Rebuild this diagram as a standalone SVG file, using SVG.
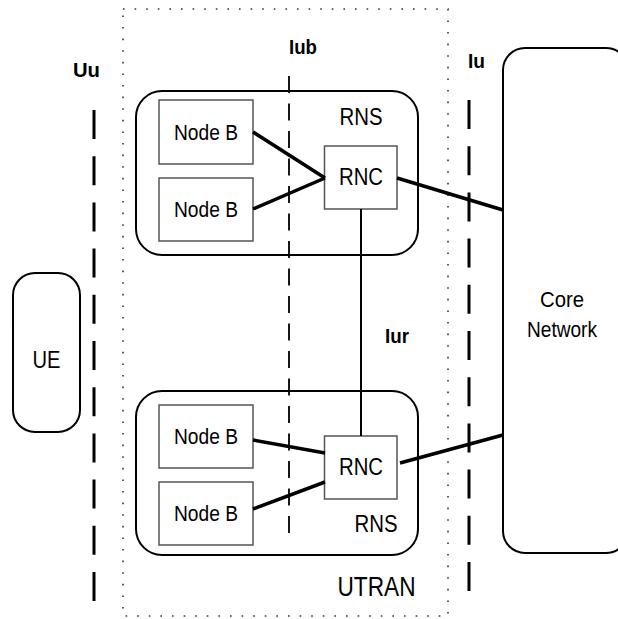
<svg xmlns="http://www.w3.org/2000/svg" width="618" height="619" viewBox="0 0 618 619">
<style>
text{font-family:"Liberation Sans",Arial,sans-serif;fill:#000}
.lbl{font-weight:bold;font-size:21px}
.t{font-size:22px;text-anchor:middle}
.rns{fill:#fff;stroke:#000;stroke-width:2}
.box{fill:#fff;stroke:#555;stroke-width:1.5}
.thick{stroke:#000;stroke-width:3.5;fill:none}
.thin{stroke:#000;stroke-width:2;fill:none}
.ifd{stroke:#000;stroke-width:3;stroke-dasharray:29 17.2;fill:none}
.iub{stroke:#000;stroke-width:1.8;stroke-dasharray:17 10.5;fill:none}
</style>
<rect width="618" height="619" fill="#fff"/>
<g id="utran">
<rect x="123" y="9" width="325" height="607" fill="none" stroke="#333" stroke-width="1.6" stroke-dasharray="1.6 10"/>
<text x="376.5" y="596" style="font-size:27px;text-anchor:middle" textLength="78" lengthAdjust="spacingAndGlyphs">UTRAN</text>
</g>
<g id="interfaces">
<line class="ifd" x1="94" y1="110" x2="94" y2="602"/>
<text class="lbl" x="73" y="77" textLength="27" lengthAdjust="spacingAndGlyphs">Uu</text>
<line class="ifd" x1="469" y1="100" x2="469" y2="593"/>
<text class="lbl" x="468" y="68" textLength="17" lengthAdjust="spacingAndGlyphs">Iu</text>
<text class="lbl" x="289" y="54" textLength="28" lengthAdjust="spacingAndGlyphs">Iub</text>
<text class="lbl" x="385" y="343" textLength="24" lengthAdjust="spacingAndGlyphs">Iur</text>
</g>
<g id="rns1">
<rect class="rns" x="136" y="91" width="282" height="164" rx="26" ry="26"/>
<text class="t" x="361" y="125" style="font-size:23px" textLength="43" lengthAdjust="spacingAndGlyphs">RNS</text>
</g>
<g id="rns2">
<rect class="rns" x="136" y="391" width="282" height="164" rx="26" ry="26"/>
<text class="t" x="376" y="532" style="font-size:23px" textLength="43" lengthAdjust="spacingAndGlyphs">RNS</text>
</g>
<g id="iub-line">
<line class="iub" x1="289" y1="76" x2="289" y2="538"/>
</g>
<g id="nodeb1">
<rect class="box" x="159" y="100" width="94" height="64"/>
<text class="t" x="206" y="139.5" textLength="64" lengthAdjust="spacingAndGlyphs">Node B</text>
</g>
<g id="nodeb2">
<rect class="box" x="159" y="178" width="94" height="63"/>
<text class="t" x="206" y="217" textLength="64" lengthAdjust="spacingAndGlyphs">Node B</text>
</g>
<g id="nodeb3">
<rect class="box" x="159" y="405" width="94" height="63"/>
<text class="t" x="206" y="443.5" textLength="64" lengthAdjust="spacingAndGlyphs">Node B</text>
</g>
<g id="nodeb4">
<rect class="box" x="159" y="482" width="94" height="63"/>
<text class="t" x="206" y="520.5" textLength="64" lengthAdjust="spacingAndGlyphs">Node B</text>
</g>
<g id="rnc1">
<rect class="box" x="324.5" y="146" width="72.5" height="63"/>
<text class="t" x="361" y="185" style="font-size:23px" textLength="44" lengthAdjust="spacingAndGlyphs">RNC</text>
</g>
<g id="rnc2">
<rect class="box" x="324.5" y="436" width="72.5" height="63"/>
<text class="t" x="361" y="475" style="font-size:23px" textLength="44" lengthAdjust="spacingAndGlyphs">RNC</text>
</g>
<g id="ue">
<rect class="rns" x="13" y="273" width="67" height="159" rx="22" ry="22"/>
<text class="t" x="46.5" y="368" style="font-size:24px" textLength="28" lengthAdjust="spacingAndGlyphs">UE</text>
</g>
<g id="core">
<rect class="rns" x="503" y="48" width="125" height="505" rx="22" ry="22"/>
<text class="t" x="562" y="307" style="font-size:22px" textLength="44" lengthAdjust="spacingAndGlyphs">Core</text>
<text class="t" x="562" y="337" style="font-size:22px" textLength="70" lengthAdjust="spacingAndGlyphs">Network</text>
</g>
<g id="connectors">
<line class="thick" x1="253" y1="132" x2="325" y2="178"/>
<line class="thick" x1="253" y1="209" x2="325" y2="178"/>
<line class="thick" x1="397" y1="178" x2="503" y2="210"/>
<line class="thin" x1="361" y1="209" x2="361" y2="436"/>
<line class="thick" x1="253" y1="440" x2="325" y2="453"/>
<line class="thick" x1="253" y1="509" x2="325" y2="482"/>
<line class="thick" x1="400" y1="463" x2="503" y2="435"/>
</g>
</svg>
